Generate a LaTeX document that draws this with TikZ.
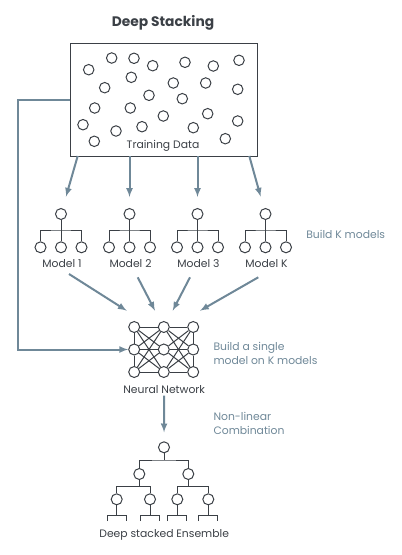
\documentclass[tikz,border=0pt]{standalone}
\usepackage{fontspec}
\setmainfont{Poppins}
\usetikzlibrary{arrows}
\definecolor{flowblue}{HTML}{6F8898}
\definecolor{inkgray}{HTML}{3B4046}

\tikzset{
	dot/.style={circle,draw=inkgray,line width=1pt,fill=white,minimum size=11pt,inner sep=0pt},
	flow/.style={draw=flowblue,line width=2pt,-latex},
	twig/.style={draw=inkgray,line width=1pt},
	caption/.style={font=\fontsize{10.8}{13}\selectfont,text=inkgray,inner sep=1pt},
	side/.style={font=\fontsize{10.8}{14}\selectfont,text=flowblue,align=left,anchor=west,inner sep=0pt}
}

\begin{document}
\begin{tikzpicture}[x=1pt,y=-1pt]
	\useasboundingbox (0,0) rectangle (402,555);
	\node[font=\fontsize{13.8}{15}\selectfont\bfseries,text=inkgray] (title) at (163,23) {Deep Stacking};
	% training data
	\node[draw=inkgray,line width=0.9pt,minimum width=187pt,minimum height=113pt,inner sep=0pt] (data) at (163.5,99.5) {};
	\foreach \x/\y in {88.7/69.7,111.7/58,134/58.3,152.7/65.7,185/62.3,213.3/66,239/60.3,
		104.7/87.7,131.3/77.3,173.3/83,205.7/83,237.7/89.3,149/95.3,182.3/98.7,
		94.7/108,130.3/108,163.3/116,207.7/113.7,83/124.7,116/131,142/126.7,
		193.3/127.7,237.7/121,94.3/141.3,225.3/138.7}
	\node[dot,minimum size=10.5pt] at (\x,\y) {};
	\node[caption] (datalab) at (163,146) {Training Data};
	% K models
	\foreach \x/\n/\lab in {61/1/1,129.5/2/2,197.5/3/3,265.5/4/K}{
		\node[dot] (r\n) at (\x,214) {};
		\node[dot] (a\n) at (\x-20.5,247.3) {};
		\node[dot] (b\n) at (\x,247.3) {};
		\node[dot] (c\n) at (\x+20.5,247.3) {};
		\draw[twig] (r\n) -- (b\n);
		\draw[twig] (a\n) |- (\x,230) -| (c\n);
		\node[caption] (m\n) at (\x+1,264) {Model \lab};
	}
	\node[side,anchor=center] (buildk) at (345.7,234.3) {Build K models};
	\coordinate (o1) at (77.7,156);
	\coordinate (o2) at (129.5,156);
	\coordinate (o3) at (197.5,156);
	\coordinate (o4) at (249.3,156);
	\draw[flow,shorten >=12pt] (o1) -- (r1);
	\draw[flow,shorten >=11pt] (o2) -- (r2);
	\draw[flow,shorten >=11pt] (o3) -- (r3);
	\draw[flow,shorten >=12pt] (o4) -- (r4);
	% neural network
	\foreach \i/\x in {1/134.2,2/163.8,3/193.2}
	\foreach \j/\y in {1/327,2/349.5,3/372}
	\node[dot] (n\i\j) at (\x,\y) {};
	\foreach \j in {1,2,3}
	\foreach \k in {1,2,3}{
		\draw[twig] (n1\j) -- (n2\k);
		\draw[twig] (n2\j) -- (n3\k);
	}
	\draw[twig] (n11) -- (n12) -- (n13);
	\draw[twig] (n31) -- (n32) -- (n33);
	\node[caption] (nnlab) at (164.2,389.3) {Neural Network};
	\node[side] (single) at (213.3,353.7) {Build a single\\model on K models};
	\coordinate (s1) at (69,274);       \coordinate (e1) at (126.7,310.7);
	\coordinate (s2) at (137.7,277.3);  \coordinate (e2) at (155,310.7);
	\coordinate (s3) at (190,277.3);    \coordinate (e3) at (172.7,310.7);
	\coordinate (s4) at (258.3,277.3);  \coordinate (e4) at (200,310.7);
	\foreach \n in {1,2,3,4}
	\draw[flow] (s\n) -- (e\n);
	\draw[flow] (data.west) -- ++(-52,0) |- (n12);
	% ensemble
	\node[dot] (t0) at (164,447.3) {};
	\node[dot] (t1) at (139.3,474) {};
	\node[dot] (t2) at (188.3,474) {};
	\node[dot] (t11) at (116.7,499.3) {};
	\node[dot] (t12) at (150,499.3) {};
	\node[dot] (t21) at (177.3,499.3) {};
	\node[dot] (t22) at (208.3,499.3) {};
	\draw[twig] (t0) -- (164,460);
	\draw[twig] (t1) |- (164,460) -| (t2);
	\draw[twig] (t1) -- (139.3,486.7);
	\draw[twig] (t11) |- (139.3,486.7) -| (t12);
	\draw[twig] (t2) -- (188.3,486.7);
	\draw[twig] (t21) |- (188.3,486.7) -| (t22);
	\foreach \t in {t11,t12,t21,t22}
	\draw[twig] (\t) -- ++(0,15.7) ++(-9.5,6) -- ++(0,-6) -- ++(19,0) -- ++(0,6);
	\node[caption] (enslab) at (164.2,535) {Deep stacked Ensemble};
	\node[side] (nonlin) at (213.3,423) {Non-linear\\Combination};
	\draw[flow,shorten <=1pt,shorten >=9pt] (nnlab) -- (t0);
\end{tikzpicture}
\end{document}
